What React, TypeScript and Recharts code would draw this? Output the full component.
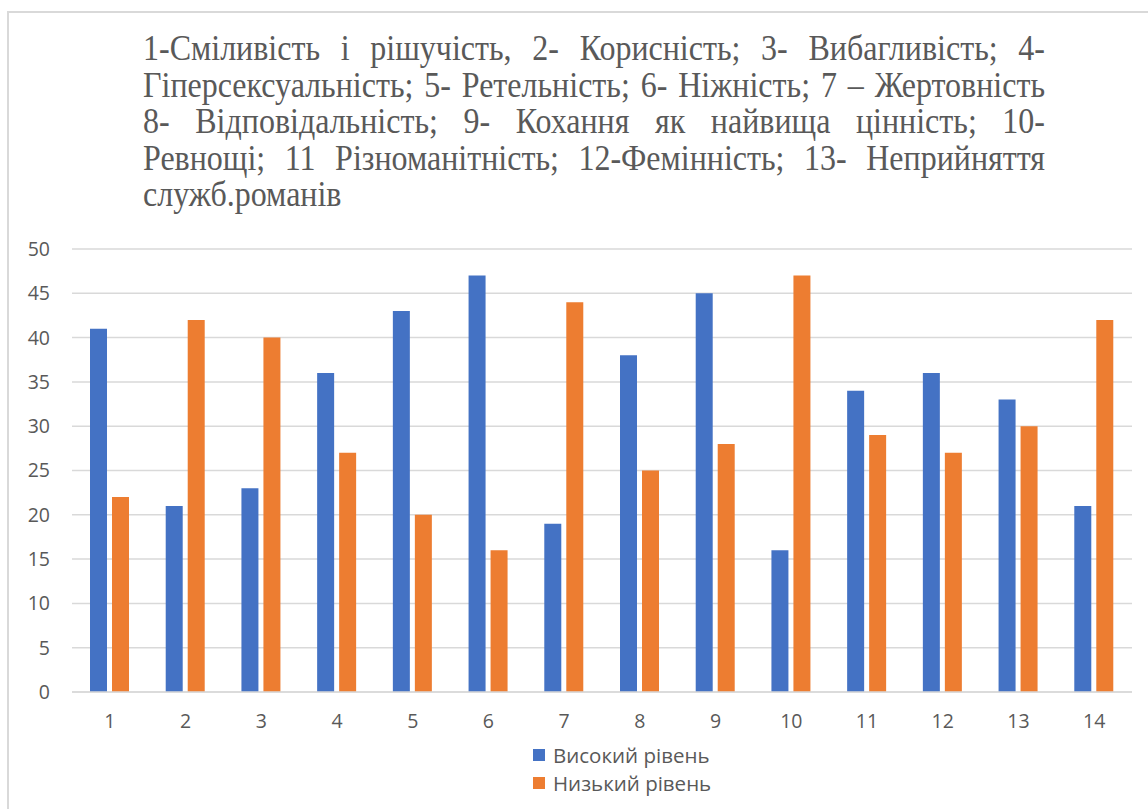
import React from 'react';
import { BarChart, Bar, XAxis, YAxis, CartesianGrid, Legend } from 'recharts';

const categories = ['1', '2', '3', '4', '5', '6', '7', '8', '9', '10', '11', '12', '13', '14'];
const highLevel = [41, 21, 23, 36, 43, 47, 19, 38, 45, 16, 34, 36, 33, 21];
const lowLevel = [22, 42, 40, 27, 20, 16, 44, 25, 28, 47, 29, 27, 30, 42];
const yTicks = [0, 5, 10, 15, 20, 25, 30, 35, 40, 45, 50];
const seriesNames = ['Високий рівень', 'Низький рівень'];
const seriesColors = ['#4472C4', '#ED7D31'];
const titleLines = [
  '1-Сміливість і рішучість, 2- Корисність; 3- Вибагливість; 4-',
  'Гіперсексуальність; 5- Ретельність; 6- Ніжність; 7 – Жертовність',
  '8- Відповідальність; 9- Кохання як найвища цінність; 10-',
  'Ревнощі; 11 Різноманітність; 12-Фемінність; 13- Неприйняття',
  'служб.романів',
];

const data = categories.map((c, i) => ({ cat: c, high: highLevel[i], low: lowLevel[i] }));

const axisFont = { fontFamily: '"Open Sans", "Noto Sans", sans-serif', fontSize: 19.5, fill: '#595959' };

const LegendContent = () => (
  <div style={{ fontFamily: '"Open Sans", "Noto Sans", sans-serif', fontSize: 20.5, color: '#595959', lineHeight: '28px' }}>
    {seriesNames.map((n, i) => (
      <div key={n} style={{ display: 'flex', alignItems: 'center' }}>
        <span style={{ display: 'inline-block', width: 12, height: 12, background: seriesColors[i], marginRight: 8 }} />
        <span>{n}</span>
      </div>
    ))}
  </div>
);

export default function App() {
  return (
    <div style={{ position: 'absolute', left: 0, top: 0, width: 1148, height: 809, background: '#fff', overflow: 'hidden' }}>
      <div style={{ position: 'absolute', left: 7, top: 11, width: 1200, height: 900, borderLeft: '2px solid #d9d9d9', borderTop: '2px solid #d9d9d9' }} />
      <div style={{ position: 'absolute', left: 143, top: 30, width: 902, fontFamily: '"Liberation Serif", "Times New Roman", serif', fontSize: 32, color: '#595959', lineHeight: '32.6px', transform: 'scaleY(1.12)', transformOrigin: 'top left' }}>
        {titleLines.map((l, i) => (
          <div key={i} style={{ whiteSpace: 'nowrap', textAlign: 'justify', textAlignLast: i === titleLines.length - 1 ? 'left' : 'justify' }}>{l}</div>
        ))}
      </div>
      <div style={{ position: 'absolute', left: 0, top: 0 }}>
        <BarChart width={1148} height={809} data={data} margin={{ top: 249, right: 16, bottom: 0, left: 0 }} barGap={5} barSize={17}>
          <CartesianGrid vertical={false} stroke="#d9d9d9" strokeWidth={1.5} />
          <XAxis dataKey="cat" tickLine={false} axisLine={{ stroke: '#d9d9d9', strokeWidth: 1.5 }} tick={axisFont} tickSize={0} tickMargin={22} height={117} interval={0} />
          <YAxis domain={[0, 50]} ticks={yTicks} tickLine={false} axisLine={false} tick={axisFont} tickSize={0} tickMargin={22} width={72} interval={0} />
          <Legend layout="vertical" align="center" verticalAlign="middle" content={<LegendContent />} wrapperStyle={{ position: 'absolute', left: 533, top: 741, width: 250 }} />
          <Bar dataKey="high" name={seriesNames[0]} fill={seriesColors[0]} isAnimationActive={false} />
          <Bar dataKey="low" name={seriesNames[1]} fill={seriesColors[1]} isAnimationActive={false} />
        </BarChart>
      </div>
    </div>
  );
}
